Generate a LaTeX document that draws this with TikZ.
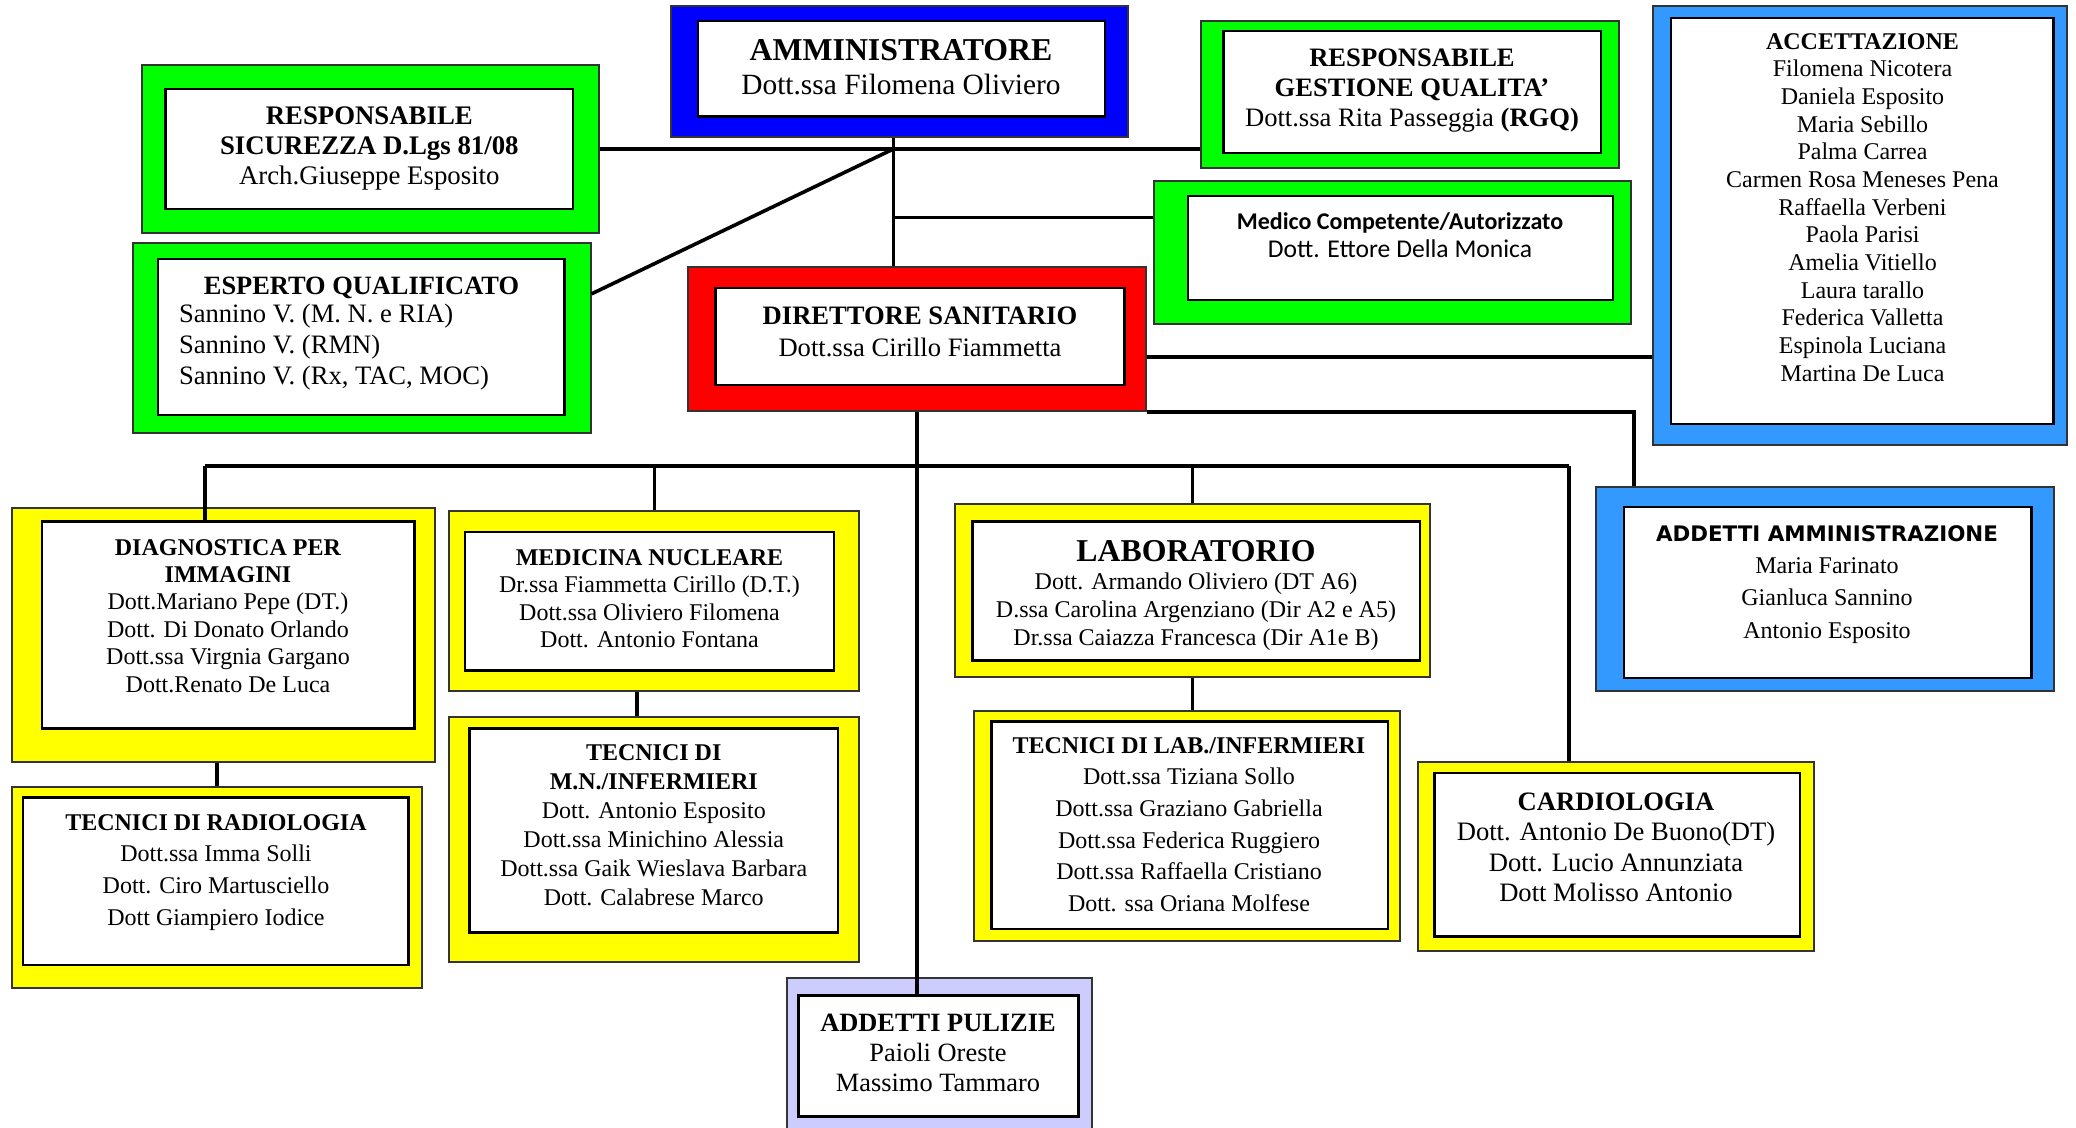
\documentclass[tikz,border=0pt]{standalone}
\usepackage{fontspec}
\setmainfont{Liberation Serif}
\newfontfamily\calibrilike{Carlito}
\newfontfamily\tahomalike{DejaVu Sans}
\usepackage{tikz}
\usetikzlibrary{fit,calc}
\definecolor{boxgreen}{RGB}{0,255,0}
\definecolor{boxblue}{RGB}{0,0,255}
\definecolor{boxred}{RGB}{255,0,0}
\definecolor{boxyellow}{RGB}{255,255,0}
\definecolor{boxsky}{RGB}{51,153,255}
\definecolor{boxlilac}{RGB}{204,204,255}
\newcommand{\fsz}[2]{\fontsize{#1}{#2}\selectfont}
\tikzset{
  outerbox/.style={draw=black!80, line width=1pt, inner sep=0pt},
  innerbox/.style={draw=black, line width=1.3pt, fill=white, inner sep=0pt},
  txt/.style={inner sep=0pt, anchor=base, align=center},
  link/.style={line width=1.8pt},
}

\begin{document}
\begin{tikzpicture}[x=0.5pt,y=-0.5pt]
\clip (0,0) rectangle (2076,1128);
%Boxes
\node[outerbox, fill=boxblue, fit={(671,5.7) (1127.7,136.7)}] (amm) {};
\node[innerbox, fit={(697.8,21) (1105,116.7)}] (ammI) {};
\node[outerbox, fill=boxgreen, fit={(142,65) (599,233)}] (rs) {};
\node[innerbox, fit={(165.6,89) (573,209)}] (rsI) {};
\node[outerbox, fill=boxgreen, fit={(133,243) (590.6,433)}] (eq) {};
\node[innerbox, fit={(158,259) (564.7,415)}] (eqI) {};
\node[outerbox, fill=boxgreen, fit={(1201,20.7) (1619,168)}] (rgq) {};
\node[innerbox, fit={(1223.6,31) (1601,153)}] (rgqI) {};
\node[outerbox, fill=boxgreen, fit={(1154.4,181) (1630.6,324)}] (mc) {};
\node[innerbox, fit={(1188,196) (1612.8,300)}] (mcI) {};
\node[outerbox, fill=boxred, fit={(688,267) (1145.5,410.7)}] (ds) {};
\node[innerbox, fit={(715.6,288) (1124.5,385)}] (dsI) {};
\node[outerbox, fill=boxsky, fit={(1653,5.7) (2067,445)}] (acc) {};
\node[innerbox, fit={(1671,18) (2053.7,424)}] (accI) {};
\node[outerbox, fill=boxsky, fit={(1596,486.7) (2054,691)}] (aa) {};
\node[innerbox, fit={(1624,507) (2031.6,678)}] (aaI) {};
\node[outerbox, fill=boxyellow, fit={(11.5,507.7) (434.5,761.7)}] (diag) {};
\node[innerbox, fit={(42,521.7) (414.4,728.3)}] (diagI) {};
\node[outerbox, fill=boxyellow, fit={(449.4,511) (859.3,690.7)}] (mn) {};
\node[innerbox, fit={(465,532) (834,670.7)}] (mnI) {};
\node[outerbox, fill=boxyellow, fit={(955,504) (1430,676.7)}] (lab) {};
\node[innerbox, fit={(972.4,521.7) (1420,660.7)}] (labI) {};
\node[outerbox, fill=boxyellow, fit={(973.7,711) (1400,941)}] (tlab) {};
\node[innerbox, fit={(991.6,721.7) (1388,929)}] (tlabI) {};
\node[outerbox, fill=boxyellow, fit={(1418,761.7) (1814,951)}] (card) {};
\node[innerbox, fit={(1434.5,773) (1800,936.7)}] (cardI) {};
\node[outerbox, fill=boxyellow, fit={(11.5,786.7) (422,988.3)}] (trad) {};
\node[innerbox, fit={(23,797.3) (408.7,965)}] (tradI) {};
\node[outerbox, fill=boxyellow, fit={(449.4,717.3) (859.3,962.3)}] (tmn) {};
\node[innerbox, fit={(469.5,728.3) (838,932.3)}] (tmnI) {};
\node[outerbox, fill=boxlilac, fit={(787.3,978.3) (1091.7,1140)}] (ap) {};
\node[innerbox, fit={(798.3,995.7) (1078.3,1116.7)}] (apI) {};
%Lines
\coordinate (ammOut) at ($(amm.south west)!0.487!(amm.south east)$);
\coordinate (hub) at (ammOut |- rs.east);
\draw[link] (ammOut) -- (ammOut |- ds.north);
\draw[link] (rs.east) -- (rs.east -| rgq.west);
\draw[link] (hub) -- ($(eq.north east)!0.27!(eq.south east)$);
\coordinate (mcIn) at ($(mc.north west)!0.26!(mc.south west)$);
\draw[link] (mcIn -| ammOut) -- (mcIn);
\coordinate (accIn) at ($(ds.north east)!0.625!(ds.south east)$);
\draw[link] (accIn) -- (accIn -| acc.west);
\coordinate (aaIn) at ($(aa.north west)!0.085!(aa.north east)$);
\draw[link] (ds.south east) -| (aaIn);
\draw[link] (ds.south) -- (ds.south |- apI.north);
\coordinate (busL) at (205,466);
\coordinate (busR) at (1569,466);
\draw[link] (busL) -- (busR);
\draw[link] (busL) -- (busL |- diagI.north);
\draw[link] (mn.north |- busL) -- (mn.north);
\draw[link] (lab.north |- busL) -- (lab.north);
\draw[link] (busR) -- (busR |- card.north);
\draw[link] (trad.north |- diag.south) -- (trad.north);
\coordinate (mnOut) at ($(mn.south west)!0.458!(mn.south east)$);
\draw[link] (mnOut) -- (mnOut |- tmn.north);
\draw[link] (lab.south) -- (lab.south |- tlab.north);
%Text (placed at the baseline of the last line)
\node[txt, font=\fsz{15.9}{17}] (ammT) at (901,95) {\textbf{AMMINISTRATORE}\\{\fsz{14.7}{17}Dott.ssa Filomena Oliviero}};
\node[txt, font=\fsz{13.4}{15}] (rsT) at (369.3,185) {\textbf{RESPONSABILE}\\\textbf{SICUREZZA D.Lgs 81/08}\\Arch.Giuseppe Esposito};
\node[txt, font=\fsz{13.2}{15.5}] (eqT) at (361.5,295) {\textbf{ESPERTO QUALIFICATO}};
\node[txt, anchor=base west, align=left, font=\fsz{13.3}{15.5}] (eqN) at (178.6,385) {Sannino V. (M. N. e RIA)\\Sannino V. (RMN)\\Sannino V. (Rx, TAC, MOC)};
\node[txt, font=\fsz{13.3}{15}] (rgqT) at (1412,127) {\textbf{RESPONSABILE}\\\textbf{GESTIONE QUALITA’}\\Dott.ssa Rita Passeggia \textbf{(RGQ)}};
\node[txt, font=\calibrilike\fsz{12.8}{14}] (mcT) at (1400,258) {{\fsz{12}{14}\bfseries Medico Competente/Autorizzato}\\Dott. Ettore Della Monica};
\node[txt, font=\fsz{13.3}{16}] (dsT) at (920,357) {\textbf{DIRETTORE SANITARIO}\\Dott.ssa Cirillo Fiammetta};
\node[txt, font=\fsz{12}{13.82}] (accT) at (1862.5,381) {\textbf{ACCETTAZIONE}\\Filomena Nicotera\\Daniela Esposito\\Maria Sebillo\\Palma Carrea\\Carmen Rosa Meneses Pena\\Raffaella Verbeni\\Paola Parisi\\Amelia Vitiello\\Laura tarallo\\Federica Valletta\\Espinola Luciana\\Martina De Luca};
\node[txt, font=\fsz{12}{16.2}] (aaT) at (1827,638.2) {{\tahomalike\bfseries\fsz{10.7}{16.2}ADDETTI AMMINISTRAZIONE}\\Maria Farinato\\Gianluca Sannino\\Antonio Esposito};
\node[txt, font=\fsz{12}{13.73}] (diagT) at (228,692.3) {\textbf{DIAGNOSTICA PER}\\\textbf{IMMAGINI}\\Dott.Mariano Pepe (DT.)\\Dott. Di Donato Orlando\\Dott.ssa Virgnia Gargano\\Dott.Renato De Luca};
\node[txt, font=\fsz{12}{13.8}] (mnT) at (649.5,647.8) {\textbf{MEDICINA NUCLEARE}\\Dr.ssa Fiammetta Cirillo (D.T.)\\Dott.ssa Oliviero Filomena\\Dott. Antonio Fontana};
\node[txt, font=\fsz{12}{14}] (labT) at (1196,645.7) {{\fsz{15.9}{14}\bfseries LABORATORIO}\\Dott. Armando Oliviero (DT A6)\\D.ssa Carolina Argenziano (Dir A2 e A5)\\Dr.ssa Caiazza Francesca (Dir A1e B)};
\node[txt, font=\fsz{12}{15.85}] (tlabT) at (1189,911.5) {\textbf{TECNICI DI LAB./INFERMIERI}\\Dott.ssa Tiziana Sollo\\Dott.ssa Graziano Gabriella\\Dott.ssa Federica Ruggiero\\Dott.ssa Raffaella Cristiano\\Dott. ssa Oriana Molfese};
\node[txt, font=\fsz{13.3}{15.25}] (cardT) at (1616,901.5) {\textbf{CARDIOLOGIA}\\Dott. Antonio De Buono(DT)\\Dott. Lucio Annunziata\\Dott Molisso Antonio};
\node[txt, font=\fsz{12}{15.83}] (tradT) at (216,925) {\textbf{TECNICI DI RADIOLOGIA}\\Dott.ssa Imma Solli\\Dott. Ciro Martusciello\\Dott Giampiero Iodice};
\node[txt, font=\fsz{12}{14.5}] (tmnT) at (653.75,905) {\textbf{TECNICI DI}\\\textbf{M.N./INFERMIERI}\\Dott. Antonio Esposito\\Dott.ssa Minichino Alessia\\Dott.ssa Gaik Wieslava Barbara\\Dott. Calabrese Marco};
\node[txt, font=\fsz{13.2}{15}] (apT) at (938,1091.7) {\textbf{ADDETTI PULIZIE}\\Paioli Oreste\\Massimo Tammaro};
\end{tikzpicture}
\end{document}
